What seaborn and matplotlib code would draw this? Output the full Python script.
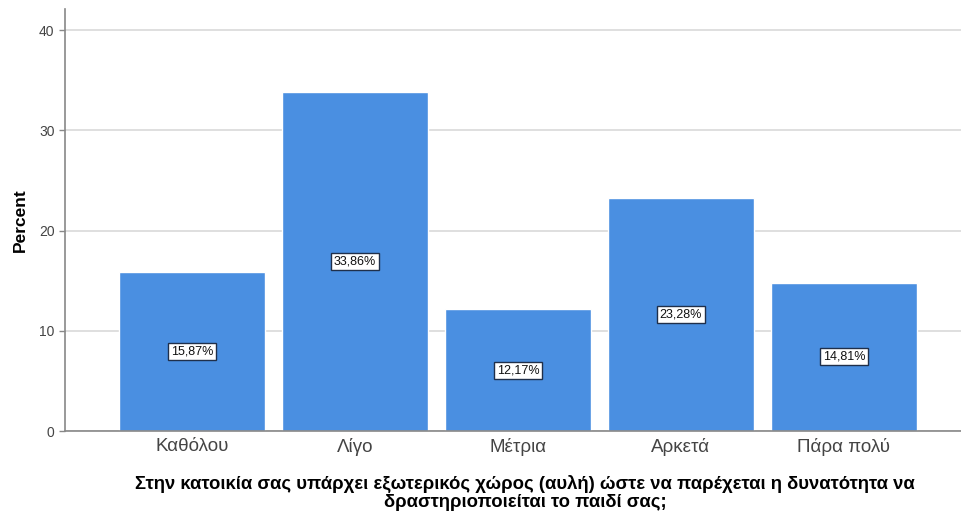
import pandas as pd
import matplotlib
matplotlib.use("Agg")
import matplotlib.pyplot as plt
import seaborn as sns

sns.set_theme(style="white")
plt.rcParams["font.family"] = ["Liberation Sans", "DejaVu Sans"]

categories = ["Καθόλου", "Λίγο", "Μέτρια", "Αρκετά", "Πάρα πολύ"]
percents = [15.87, 33.86, 12.17, 23.28, 14.81]
xlabel = ("Στην κατοικία σας υπάρχει εξωτερικός χώρος (αυλή) ώστε να παρέχεται η δυνατότητα να\n"
          "δραστηριοποιείται το παιδί σας;")

df = pd.DataFrame({"cat": categories, "pct": percents})

fig = plt.figure(figsize=(9.62, 5.16), dpi=100)
ax = fig.add_axes([0.0676, 0.1647, 0.9324, 0.8179])

sns.barplot(data=df, x="cat", y="pct", color="#4a8fe1", saturation=1, width=0.9, ax=ax, zorder=2)

ax.set_ylim(0, 42.1)
ax.set_xlim(-0.779, 4.724)
ax.set_yticks([0, 10, 20, 30, 40])
ax.yaxis.grid(True, color="#d9d9d9", linewidth=1.2, zorder=0)
ax.set_axisbelow(True)

for side in ["top", "right"]:
    ax.spines[side].set_visible(False)
for side in ["left", "bottom"]:
    ax.spines[side].set_color("#888888")
    ax.spines[side].set_linewidth(1.2)

ax.tick_params(axis="y", labelsize=10, colors="#444444", length=4, width=1, left=True)
ax.tick_params(axis="y", color="#888888")
ax.tick_params(axis="x", labelsize=13.5, colors="#444444", length=0, pad=5)

labels = [f"{v:.2f}%".replace(".", ",") for v in percents]
ax.bar_label(ax.containers[0], labels=labels, label_type="center", fontsize=9, color="#111111",
             bbox=dict(boxstyle="square,pad=0.2", facecolor="white", edgecolor="#1f2f4a", linewidth=1))

ax.set_ylabel("Percent", fontsize=12.5, fontweight="bold", color="black")
ax.yaxis.set_label_coords(-0.041, 0.5)
ax.set_xlabel(xlabel, fontsize=13.3, fontweight="bold", color="black", linespacing=1.05)
ax.xaxis.set_label_coords(0.513, -0.105)

fig.savefig("out.png", dpi=100)
